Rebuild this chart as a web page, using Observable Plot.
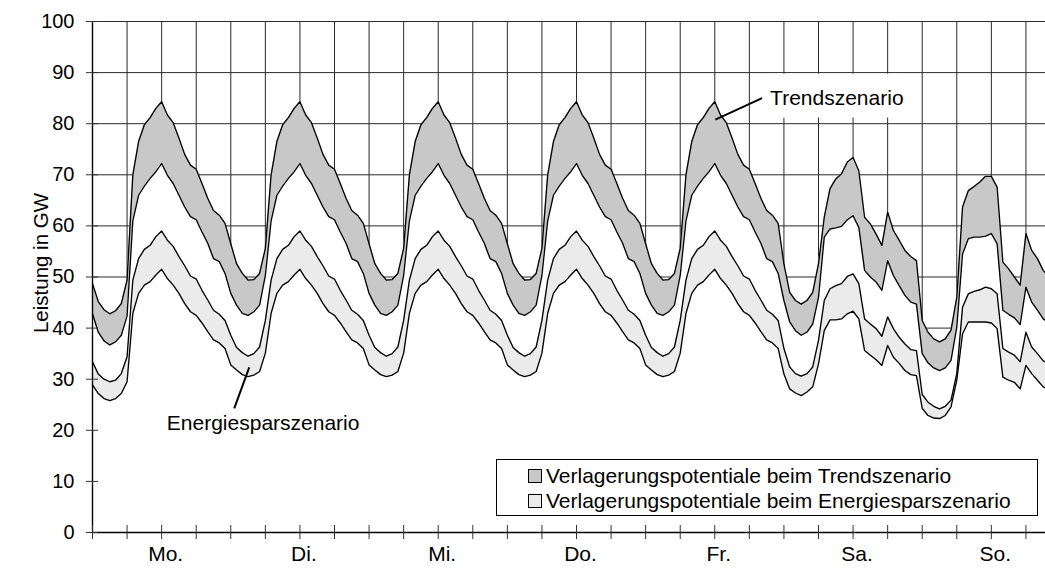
<!DOCTYPE html>
<html>
<head>
<meta charset="utf-8">
<script src="https://cdn.jsdelivr.net/npm/d3@7"></script>
<script src="https://cdn.jsdelivr.net/npm/@observablehq/plot@0.6"></script>
<style>
  html, body { margin: 0; padding: 0; background: #fff; overflow: hidden; }
  #wrap { position: relative; width: 1045px; height: 571px; overflow: hidden;
          font-family: "Liberation Sans", Arial, Helvetica, sans-serif; color: #000; }
  #wrap svg { max-width: none !important; display: block; }
  #legend { position: absolute; left: 496px; top: 459px; width: 542px; height: 57px;
            box-sizing: border-box; border: 1px solid #000; background: #fff;
            font-size: 21px; padding: 3px 0 0 31px; }
  .row { display: flex; align-items: center; height: 25px; white-space: nowrap; }
  .sw { width: 14px; height: 14px; box-sizing: border-box; border: 1px solid #000; margin-right: 4px; flex: none; }
</style>
</head>
<body>
<div id="wrap"></div>
<script>
// ---- Data (GW), hourly values ----
const dayLabels = ["Mo.", "Di.", "Mi.", "Do.", "Fr.", "Sa.", "So."];
const yTicks = [0, 10, 20, 30, 40, 50, 60, 70, 80, 90, 100];
const legendLabels = ["Verlagerungspotentiale beim Trendszenario", "Verlagerungspotentiale beim Energiesparszenario"];

// Monday night (h0..h6)
const trendUpperMonNight  = [48.7, 45.2, 43.6, 42.8, 43.4, 44.8, 49.4];
const trendLowerMonNight  = [42.8, 39.2, 37.5, 36.7, 37.3, 38.6, 42.4];
const energyUpperMonNight = [33.4, 31.0, 30.0, 29.5, 29.8, 31.1, 34.4];
const energyLowerMonNight = [28.9, 27.2, 26.2, 25.8, 26.2, 27.2, 29.5];

// Working day profile (h0..h23), identical Mo.-Fr.
const trendUpperWeekday  = [56.5, 52.6, 50.7, 49.4, 49.5, 50.7, 55.6, 70.0, 76.5, 79.8, 81.2, 83.0, 84.3, 81.7, 80.2, 77.2, 74.0, 71.9, 71.1, 68.3, 65.4, 63.0, 62.1, 60.5];
const trendLowerWeekday  = [46.8, 44.5, 42.9, 42.5, 43.2, 44.5, 50.3, 61.0, 66.0, 67.8, 69.3, 70.6, 72.2, 69.9, 68.3, 66.0, 63.7, 61.8, 61.2, 58.8, 56.6, 53.6, 53.0, 50.7];
const energyUpperWeekday = [38.6, 36.2, 35.2, 34.5, 35.0, 36.3, 41.5, 49.4, 53.6, 55.4, 56.2, 57.9, 59.0, 57.2, 56.0, 54.0, 52.2, 50.2, 49.6, 47.4, 45.5, 43.5, 42.7, 41.5];
const energyLowerWeekday = [32.8, 31.8, 30.9, 30.5, 30.8, 31.5, 35.1, 42.9, 46.8, 48.4, 49.1, 50.4, 51.5, 49.7, 48.4, 46.8, 44.8, 43.2, 42.5, 41.0, 39.3, 37.7, 37.1, 36.0];

// Saturday (h0..h23)
const trendUpperSat  = [52.5, 47.0, 45.4, 44.7, 45.4, 47.0, 52.6, 61.7, 67.3, 69.2, 70.2, 72.5, 73.4, 70.8, 61.7, 60.4, 58.4, 56.2, 62.7, 59.1, 57.2, 55.2, 54.0, 53.2];
const trendLowerSat  = [45.4, 41.2, 39.5, 38.6, 39.2, 40.8, 46.0, 57.8, 59.4, 59.6, 59.9, 61.2, 62.0, 59.7, 51.3, 50.0, 49.0, 47.4, 53.2, 50.3, 48.3, 46.4, 45.1, 44.7];
const energyUpperSat = [36.0, 32.4, 31.1, 30.6, 31.1, 32.4, 37.6, 45.4, 47.7, 48.3, 48.7, 50.1, 50.6, 48.7, 41.8, 40.8, 39.9, 38.4, 42.2, 39.9, 38.2, 36.9, 35.8, 35.6];
const energyLowerSat = [31.0, 28.1, 27.3, 26.8, 27.5, 28.5, 33.0, 39.5, 41.6, 41.6, 41.8, 42.8, 43.3, 41.8, 35.6, 34.7, 33.8, 32.7, 36.6, 34.3, 33.1, 31.7, 30.9, 30.7];

// Sunday (h0..h24)
const trendUpperSun  = [41.5, 39.2, 37.9, 37.3, 37.9, 39.6, 46.0, 63.7, 66.9, 67.7, 68.6, 69.7, 69.7, 67.6, 52.9, 51.6, 50.0, 48.4, 58.5, 55.2, 53.6, 51.3, 50.0, 48.5, 46.0];
const trendLowerSun  = [35.0, 33.2, 32.2, 31.7, 32.2, 33.7, 40.2, 54.5, 57.5, 57.8, 57.8, 58.0, 58.5, 56.5, 43.5, 42.7, 42.0, 40.7, 48.0, 45.1, 43.5, 41.8, 41.0, 40.0, 38.0];
const energyUpperSun = [27.0, 25.5, 24.7, 24.2, 24.7, 25.9, 31.1, 44.1, 46.7, 47.2, 47.5, 48.0, 47.7, 46.7, 36.0, 35.3, 34.7, 33.4, 39.2, 36.3, 35.0, 33.6, 33.0, 32.5, 31.0];
const energyLowerSun = [24.3, 22.9, 22.4, 22.3, 22.9, 24.6, 29.8, 38.9, 41.2, 41.2, 41.2, 41.2, 41.0, 39.9, 30.4, 29.8, 29.4, 28.1, 32.7, 31.1, 29.8, 28.5, 28.0, 27.5, 26.0];

// Annotations (anchored in data units: hour of week, GW)
const annoLabels = [
  {label: "Trendszenario", h: 117.6, v: 84.9},
  {label: "Energiesparszenario", h: 12.9, v: 21.4}
];
const annoLinks = [
  {h1: 116.2, v1: 85.0, h2: 108.1, v2: 80.8},
  {h1: 27.2, v1: 32.3, h2: 24.6, v2: 24.3}
];
const annoBox = [{h1: 117.0, h2: 141.0, v1: 81.1, v2: 89.7}];

// ---- Build the week ----
function week(monNight, weekday, sat, sun) {
  return [...monNight, ...weekday.slice(7),
          ...weekday, ...weekday, ...weekday, ...weekday,
          ...sat, ...sun];
}
const TU = week(trendUpperMonNight, trendUpperWeekday, trendUpperSat, trendUpperSun);
const TL = week(trendLowerMonNight, trendLowerWeekday, trendLowerSat, trendLowerSun);
const EU = week(energyUpperMonNight, energyUpperWeekday, energyUpperSat, energyUpperSun);
const EL = week(energyLowerMonNight, energyLowerWeekday, energyLowerSat, energyLowerSun);
const rows = TU.map((v, i) => ({h: i, tu: v, tl: TL[i], eu: EU[i], el: EL[i]}));
const xTicks = d3.range(0, 169, 6);
const days = dayLabels.map((d, i) => ({label: d, h: i * 24 + 12}));

const W = 1065, H = 571, ML = 92, MR = 5, MT = 21, MB = 39;
const innerW = W - ML - MR, innerH = H - MT - MB;
const lineStyle = {stroke: "#000", strokeWidth: 1.35};

const chart = Plot.plot({
  width: W, height: H,
  marginLeft: ML, marginRight: MR, marginTop: MT, marginBottom: MB,
  x: {domain: [0, 168], axis: null},
  y: {domain: [0, 100], axis: null},
  style: {fontFamily: '"Liberation Sans", Arial, Helvetica, sans-serif', fontSize: "20px", color: "#000", background: "#fff", overflow: "visible", maxWidth: "none"},
  marks: [
    Plot.ruleY(yTicks.filter(d => d > 0), {stroke: "#2a2a2a", strokeWidth: 1}),
    Plot.ruleX(xTicks.filter(d => d > 0), {stroke: "#2a2a2a", strokeWidth: 1}),
    Plot.areaY(rows, {x: "h", y1: 0, y2: "tu", fill: "#fff"}),
    Plot.areaY(rows, {x: "h", y1: "tl", y2: "tu", fill: "#c8c8c8"}),
    Plot.areaY(rows, {x: "h", y1: "el", y2: "eu", fill: "#ebebeb"}),
    Plot.lineY(rows, {x: "h", y: "tu", ...lineStyle}),
    Plot.lineY(rows, {x: "h", y: "tl", ...lineStyle}),
    Plot.lineY(rows, {x: "h", y: "eu", ...lineStyle}),
    Plot.lineY(rows, {x: "h", y: "el", ...lineStyle}),
    // axes
    Plot.ruleX([0], {stroke: "#000", strokeWidth: 1.4}),
    Plot.ruleY([0], {stroke: "#000", strokeWidth: 1.4}),
    Plot.ruleY(yTicks, {stroke: "#333", strokeWidth: 1, insetRight: innerW - 12, dx: -6}),
    Plot.ruleX(xTicks, {stroke: "#333", strokeWidth: 1, insetTop: innerH - 14, dy: 7}),
    Plot.text(yTicks, {y: d => d, text: d => String(d), frameAnchor: "left", textAnchor: "end", dx: -18, fill: "#000"}),
    Plot.text(days, {x: "h", text: "label", frameAnchor: "bottom", dy: 28, dx: 4, fontSize: 21, fill: "#000"}),
    Plot.text(["Leistung in GW"], {frameAnchor: "left", textAnchor: "middle", rotate: -90, dx: -51, dy: -14, fontSize: 20.5, fill: "#000"}),
    // annotations
    Plot.rect(annoBox, {x1: "h1", x2: "h2", y1: "v1", y2: "v2", fill: "#fff"}),
    Plot.link(annoLinks, {x1: "h1", y1: "v1", x2: "h2", y2: "v2", stroke: "#000", strokeWidth: 2}),
    Plot.text(annoLabels, {x: "h", y: "v", text: "label", textAnchor: "start", fontSize: 21, fill: "#000"})
  ]
});
chart.style.maxWidth = "none";

const wrap = document.getElementById("wrap");
wrap.appendChild(chart);

const legend = document.createElement("div");
legend.id = "legend";
const fills = ["#c8c8c8", "#ebebeb"];
legendLabels.forEach((t, i) => {
  const row = document.createElement("div");
  row.className = "row";
  const sw = document.createElement("span");
  sw.className = "sw";
  sw.style.background = fills[i];
  const tx = document.createElement("span");
  tx.textContent = t;
  row.appendChild(sw);
  row.appendChild(tx);
  legend.appendChild(row);
});
wrap.appendChild(legend);
</script>
</body>
</html>
